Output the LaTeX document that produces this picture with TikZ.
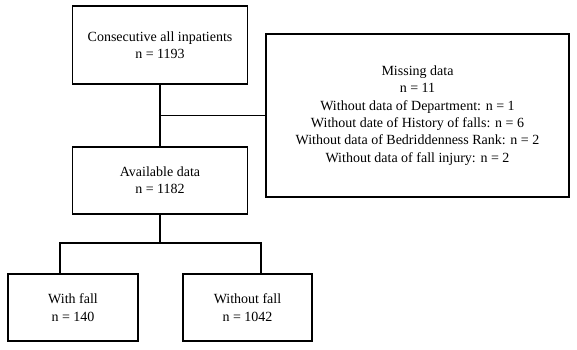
\documentclass[tikz,border=0pt]{standalone}
\usepackage{fontspec}
\setmainfont{Liberation Serif}
\usepackage{tikz}

\tikzset{
  flowbox/.style={draw,line width=1.8pt,align=center,inner sep=0pt,
    font=\fontsize{14}{17.4}\selectfont},
  link/.style={line width=1.8pt}
}

\begin{document}
\begin{tikzpicture}[x=1pt,y=1pt]
\useasboundingbox (0,0) rectangle (577,-349);
\node[flowbox,minimum width=175pt,minimum height=78pt] (all) at (160,-45) {Consecutive all inpatients\\n = 1193};
\node[flowbox,minimum width=303pt,minimum height=163pt] (missing) at (417.5,-115.5) {Missing data\\n = 11\\Without data of Department: n = 1\\Without date of History of falls: n = 6\\Without data of Bedriddenness Rank: n = 2\\Without data of fall injury: n = 2};
\node[flowbox,minimum width=175pt,minimum height=67pt] (avail) at (160,-180.5) {Available data\\n = 1182};
\node[flowbox,minimum width=130pt,minimum height=67pt] (withfall) at (73,-307.5) {With fall\\n = 140};
\node[flowbox,minimum width=129pt,minimum height=67pt] (nofall) at (247.5,-307.5) {Without fall\\n = 1042};
\coordinate (split) at (160,-242.7);
\coordinate (leftdrop) at (60,-274);
\coordinate (rightdrop) at (261,-274);
\draw[link] (all.south) -- (avail.north);
\draw[link] (missing.west -| all.south) -- (missing.west);
\draw[link] (avail.south) -- (split);
\draw[link] (leftdrop) |- (split) -| (rightdrop);
\end{tikzpicture}
\end{document}
